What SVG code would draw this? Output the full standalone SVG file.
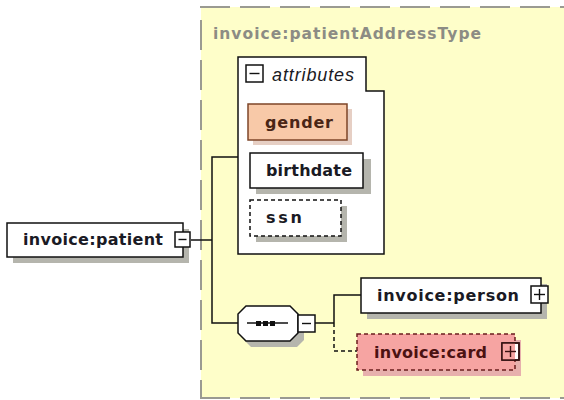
<svg xmlns="http://www.w3.org/2000/svg" width="564" height="400" viewBox="0 0 564 400">
<style>
.bg{fill:#fefec9}
.bd{stroke:#9a9a92;stroke-width:2;stroke-dasharray:30 10;fill:none}
.ln{stroke:#111;stroke-width:1.5;fill:none}
.dl{stroke:#111;stroke-width:1.5;fill:none;stroke-dasharray:4 3}
.box{fill:#fff;stroke:#111;stroke-width:1.5}
.sh{fill:#b5b5ad}
.t{font-family:"DejaVu Sans","Liberation Sans",sans-serif;font-weight:bold;font-size:16px;fill:#1a1a24}
.tt{font-family:"DejaVu Sans","Liberation Sans",sans-serif;font-weight:bold;font-size:15.5px;fill:#8c8c84}
.it{font-family:"Liberation Sans",Arial,sans-serif;font-style:italic;font-size:18px;fill:#1a1a24}
.sym{stroke:#111;stroke-width:1.4;fill:none}
</style>
<g id="complexType">
<rect class="bg" x="201" y="7" width="380" height="391"/>
<line class="bd" x1="200" y1="7" x2="564" y2="7"/>
<line class="bd" x1="201" y1="20" x2="201" y2="398"/>
<line class="bd" x1="200" y1="398" x2="564" y2="398"/>
<text class="tt" x="213" y="39" textLength="268" lengthAdjust="spacing">invoice:patientAddressType</text>
</g>
<g id="connectors">
<polyline class="ln" points="191,240 212,240"/>
<polyline class="ln" points="238,157 212,157 212,323 238,323"/>
<polyline class="ln" points="315,323 334,323"/>
<polyline class="ln" points="361,295 334,295 334,323"/>
<polyline class="dl" points="334,323 334,351 358,351"/>
</g>
<g id="patient">
<rect class="sh" x="13" y="229" width="176" height="34"/>
<rect class="box" x="7" y="223" width="176" height="34"/>
<text class="t" x="23" y="245" textLength="140" lengthAdjust="spacing">invoice:patient</text>
<rect class="box" x="175" y="232" width="15" height="15"/>
<line class="sym" x1="178.5" y1="239.5" x2="186.5" y2="239.5"/>
</g>
<g id="attributes">
<polygon class="box" points="238,57 366,57 366,91 384,91 384,254 238,254"/>
<rect class="box" x="246" y="65" width="17" height="17"/>
<line class="sym" x1="249.5" y1="73.5" x2="259.5" y2="73.5"/>
<text class="it" x="272" y="81" textLength="82" lengthAdjust="spacing">attributes</text>
</g>
<g id="gender">
<rect x="253" y="109" width="99" height="36" fill="#e6cfc4"/>
<rect x="248" y="104" width="99" height="36" fill="#f8c9a8" stroke="#7e4528" stroke-width="1.5"/>
<text class="t" x="265" y="128" textLength="68" lengthAdjust="spacing" style="fill:#4a2616">gender</text>
</g>
<g id="birthdate">
<rect class="sh" x="256" y="159" width="115" height="35"/>
<rect class="box" x="250" y="153" width="113" height="35"/>
<text class="t" x="266" y="176" textLength="86" lengthAdjust="spacing">birthdate</text>
</g>
<g id="ssn">
<rect class="sh" x="256" y="206" width="91" height="36"/>
<rect x="250" y="200" width="91" height="36" fill="#fff" stroke="#111" stroke-width="1.5" stroke-dasharray="4 3"/>
<text class="t" x="266" y="223" textLength="36" lengthAdjust="spacing">ssn</text>
</g>
<g id="sequence">
<polygon class="sh" points="251,312 297,312 304,319 304,340 297,347 251,347 244,340 244,319"/>
<polygon class="box" points="246,306 290,306 298,314 298,333 290,341 246,341 238,333 238,314"/>
<line x1="247" y1="323" x2="288" y2="323" stroke="#111" stroke-width="1.5"/>
<rect x="256" y="321" width="5" height="5" fill="#111"/>
<rect x="263" y="321" width="5" height="5" fill="#111"/>
<rect x="270" y="321" width="5" height="5" fill="#111"/>
<rect class="box" x="298" y="315" width="17" height="17"/>
<line class="sym" x1="302" y1="323.5" x2="311" y2="323.5"/>
</g>
<g id="person">
<rect class="sh" x="367" y="284" width="180" height="35"/>
<rect class="box" x="361" y="278" width="180" height="35"/>
<text class="t" x="377" y="301" textLength="142" lengthAdjust="spacing">invoice:person</text>
<rect class="box" x="531" y="286" width="17" height="17"/>
<line class="sym" x1="534" y1="294.5" x2="545" y2="294.5"/>
<line class="sym" x1="539.5" y1="289" x2="539.5" y2="300"/>
</g>
<g id="card">
<rect x="363" y="340" width="158" height="36" fill="#e7b0ad"/>
<rect x="357" y="334" width="158" height="36" fill="#f6a4a2" stroke="#6a1e1e" stroke-width="1.5" stroke-dasharray="4 3"/>
<text class="t" x="374" y="358" textLength="113" lengthAdjust="spacing" style="fill:#4c1212">invoice:card</text>
<rect x="502" y="343" width="17" height="17" fill="#fff" stroke="#111" stroke-width="1.5"/>
<rect x="502" y="343" width="13" height="17" fill="#f6a4a2"/>
<rect x="502" y="343" width="17" height="17" fill="none" stroke="#3a1010" stroke-width="1.5"/>
<line x1="505" y1="351.5" x2="516" y2="351.5" stroke="#3a1010" stroke-width="1.4"/>
<line x1="510.5" y1="346" x2="510.5" y2="357" stroke="#3a1010" stroke-width="1.4"/>
</g>
</svg>
